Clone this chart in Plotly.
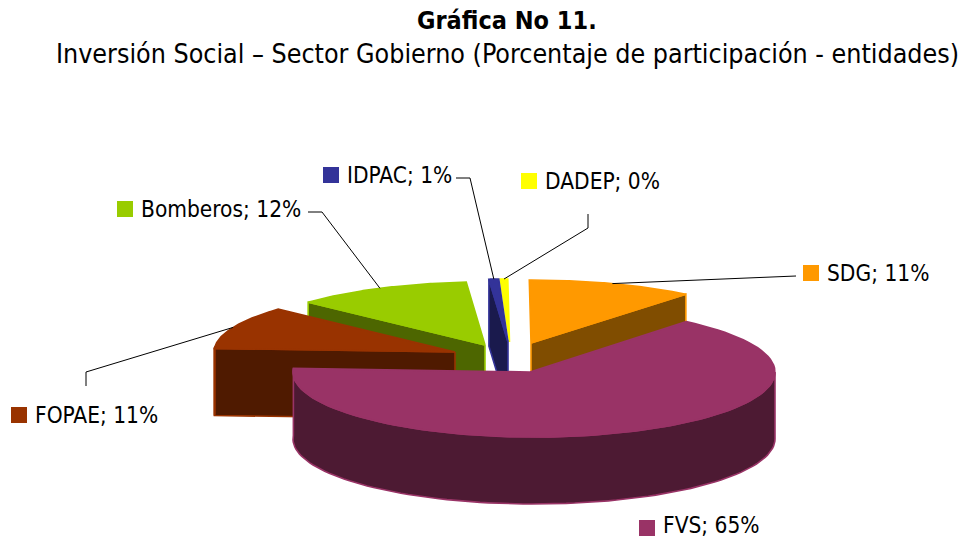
import numpy as np
import plotly.graph_objects as go

# --- data ---
categories = ["SDG", "FVS", "FOPAE", "Bomberos", "IDPAC", "DADEP"]
shares = [11.0, 65.0, 11.0, 11.87, 0.64, 0.49]
shown_pct = ["11%", "65%", "11%", "12%", "1%", "0%"]

# --- styles ---
top_colors = ["#FF9900", "#993366", "#993300", "#99CC00", "#333399", "#FFFF00"]
wall_colors = ["#804D00", "#4D1A33", "#4F1A00", "#4D6600", "#1A1A4D", "#808000"]

# --- layout of the exploded pie, in page pixels ---
START_DEG = -0.4
RX, RY, DEPTH = 245, 63, 67
centres = {"SDG": (531, 343), "FVS": (534, 372), "FOPAE": (455, 352),
           "Bomberos": (485, 345), "IDPAC": (508, 342), "DADEP": (509.5, 342)}
radii = {"FVS": (241, 65), "FOPAE": (241, 63), "Bomberos": (241, 63)}
apexes = {"FVS": (530, 372)}
draw_order = ["DADEP", "IDPAC", "Bomberos", "FOPAE", "SDG", "FVS"]

keys = {"SDG": (803, 265), "FVS": (639, 520), "FOPAE": (11, 407),
        "Bomberos": (117, 201), "IDPAC": (323, 167), "DADEP": (521, 173)}
label_dy = {"FVS": -3.5}
leaders = {"SDG": [(780, 276), (796, 276)],
           "FOPAE": [(86, 372), (86, 386)],
           "Bomberos": [(322, 212), (308, 212)],
           "IDPAC": [(470, 178), (456, 178)],
           "DADEP": [(588, 228), (588, 214)]}

FONT = "DejaVu Sans Condensed, DejaVu Sans"
shares_arr = np.array(shares)
edges = START_DEG + np.concatenate([[0], np.cumsum(shares_arr / shares_arr.sum() * 360)])
span = {c: (edges[i], edges[i + 1]) for i, c in enumerate(categories)}


def geom(cat):
    cx, cy = centres[cat]
    rx, ry = radii.get(cat, (RX, RY))
    ax, ay = apexes.get(cat, (cx, cy))
    return cx, cy, rx, ry, ax, ay


def arc(cat, a0, a1, n=90):
    cx, cy, rx, ry, _, _ = geom(cat)
    t = np.radians(np.linspace(a0, a1, n))
    return cx + rx * np.sin(t), cy - ry * np.cos(t)


fig = go.Figure()


def poly(x, y, fill, line):
    fig.add_trace(go.Scatter(x=list(x) + [x[0]], y=list(y) + [y[0]], mode="lines",
                             fill="toself", fillcolor=fill,
                             line=dict(color=line, width=1.6),
                             hoverinfo="skip", showlegend=False))


for cat in draw_order:
    i = categories.index(cat)
    a0, a1 = span[cat]
    cx, cy, rx, ry, ax, ay = geom(cat)
    top, wall = top_colors[i], wall_colors[i]
    if cat == "SDG":
        ex, ey = arc(cat, a1, a1, 1)
        poly([ax, ex[0], ex[0], ax], [ay, ey[0], ey[0] + DEPTH, ay + DEPTH], wall, top)
    elif cat in ("FOPAE", "Bomberos", "IDPAC"):
        ex, ey = arc(cat, a0, a0, 1)
        poly([ax, ex[0], ex[0], ax], [ay, ey[0], ey[0] + DEPTH, ay + DEPTH], wall, top)
    lo, hi = max(a0, 90), min(a1, 275)
    if hi > lo:
        rx_, ry_ = arc(cat, lo, hi)
        poly(list(rx_) + list(rx_[::-1]), list(ry_) + list(ry_[::-1] + DEPTH), wall, top)
    tx, ty = arc(cat, a0, a1)
    poly([ax] + list(tx), [ay] + list(ty), top, top)

for cat, pts in leaders.items():
    a0, a1 = span[cat]
    mx, my = arc(cat, (a0 + a1) / 2, (a0 + a1) / 2, 1)
    xs = [mx[0]] + [p[0] for p in pts]
    ys = [my[0]] + [p[1] for p in pts]
    fig.add_trace(go.Scatter(x=xs, y=ys, mode="lines", line=dict(color="#000000", width=1),
                             hoverinfo="skip", showlegend=False))

KEY = 16
for i, cat in enumerate(categories):
    kx, ky = keys[cat]
    fig.add_trace(go.Scatter(x=[kx + KEY / 2], y=[ky + KEY / 2], mode="markers",
                             marker=dict(symbol="square", size=KEY, color=top_colors[i]),
                             hoverinfo="skip", showlegend=False))
    fig.add_annotation(x=kx + 22, y=ky + 8 + label_dy.get(cat, 0), xref="x", yref="y",
                       xanchor="left", yanchor="middle",
                       text=f"{cat}; {shown_pct[i]}", showarrow=False,
                       font=dict(family=FONT, size=22.5, color="#000000"))

fig.add_annotation(x=507, y=20, xref="x", yref="y", text="<b>Gráfica No 11.</b>", showarrow=False,
                   xanchor="center", yanchor="middle",
                   font=dict(family="DejaVu Sans Condensed, DejaVu Sans", size=25, color="#000000"))
fig.add_annotation(x=507, y=53, xref="x", yref="y",
                   text="Inversión Social – Sector Gobierno (Porcentaje de participación - entidades)",
                   showarrow=False, xanchor="center", yanchor="middle",
                   font=dict(family="DejaVu Sans Condensed, DejaVu Sans", size=26.6, color="#000000"))

fig.update_layout(width=963, height=537, autosize=False, margin=dict(l=0, r=0, t=0, b=0),
                  paper_bgcolor="#FFFFFF", plot_bgcolor="#FFFFFF", showlegend=False,
                  xaxis=dict(range=[0, 963], visible=False, fixedrange=True),
                  yaxis=dict(range=[537, 0], visible=False, fixedrange=True))
fig.write_html("out.html", config={"displayModeBar": False},
               post_script="document.body.style.margin='0';")
